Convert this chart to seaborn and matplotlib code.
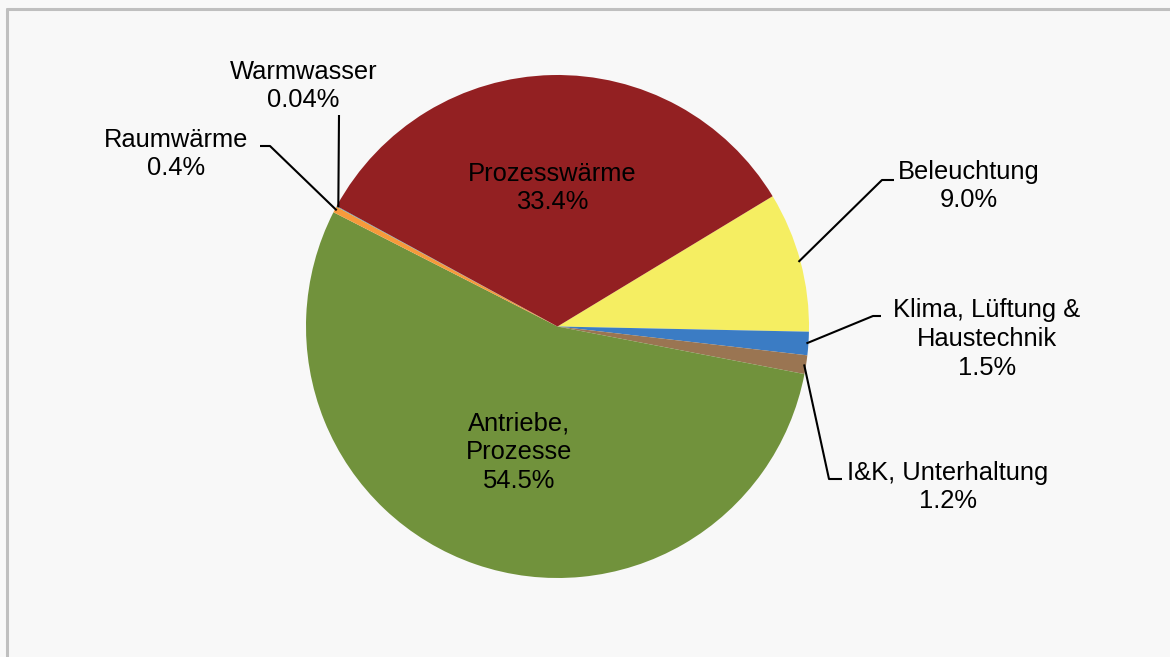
import numpy as np
import matplotlib
matplotlib.use("Agg")
import matplotlib.pyplot as plt
import seaborn as sns

# =========================
# DATA
# =========================
labels = ["Beleuchtung", "Klima, Lüftung &\nHaustechnik", "I&K, Unterhaltung",
          "Antriebe,\nProzesse", "Raumwärme", "Warmwasser", "Prozesswärme"]
shares = [9.0, 1.5, 1.2, 54.5, 0.4, 0.04, 33.4]
pct_labels = ["9.0%", "1.5%", "1.2%", "54.5%", "0.4%", "0.04%", "33.4%"]
colors = ["#F5EE62", "#3B7CC4", "#9A7552", "#71923C", "#F79A3B", "#4BACC6", "#932022"]

# =========================
# LAYOUT (pixel coords, y from top)
# =========================
W, H = 1170, 657
cx, cy, r = 557.5, 326.5, 251.5
# label block centers
text_pos = [(969, 186), (987, 339), (948, 487), (519, 452),
            (176, 154), (303.5, 86), (552.5, 188)]
# leader line elbows (None = label inside slice)
elbows = [[(882, 180), (894, 180)],
          [(873, 316), (881, 316)],
          [(829, 479), (842, 479)],
          None,
          [(270, 146), (260, 146)],
          [(339, 115)],
          None]

sns.set_theme(style="white")
plt.rcParams["font.family"] = ["Liberation Sans", "DejaVu Sans"]

fig = plt.figure(figsize=(W / 100, H / 100), dpi=100)
fig.patch.set_facecolor("#F8F8F8")
ax = fig.add_axes([0, 0, 1, 1])
ax.set_facecolor("#F8F8F8")

wedges, _ = ax.pie(shares, colors=colors, startangle=31.2, counterclock=False,
                   center=(cx, H - cy), radius=r,
                   wedgeprops=dict(linewidth=0))

for w, lab, pct, (tx, ty), elb in zip(wedges, labels, pct_labels, text_pos, elbows):
    ax.text(tx, H - ty, lab + "\n" + pct, ha="center", va="center",
            fontsize=18.4, color="black", linespacing=1.26)
    if elb is None:
        continue
    mid = np.deg2rad((w.theta1 + w.theta2) / 2)
    x0 = cx + (r - 2) * np.cos(mid)
    y0 = (H - cy) + (r - 2) * np.sin(mid)
    xs = [x0] + [p[0] for p in elb]
    ys = [y0] + [H - p[1] for p in elb]
    ax.plot(xs, ys, color="black", lw=1.5, solid_capstyle="butt")

# chart frame (cut off at right and bottom)
ax.plot([7, 7], [-10, H - 9], color="#BFBFBF", lw=2.2)
ax.plot([7, W + 10], [H - 9, H - 9], color="#BFBFBF", lw=2.2)

ax.set_xlim(0, W)
ax.set_ylim(0, H)
ax.set_aspect("equal")
ax.axis("off")

fig.savefig("out.png", dpi=100, facecolor=fig.get_facecolor())
